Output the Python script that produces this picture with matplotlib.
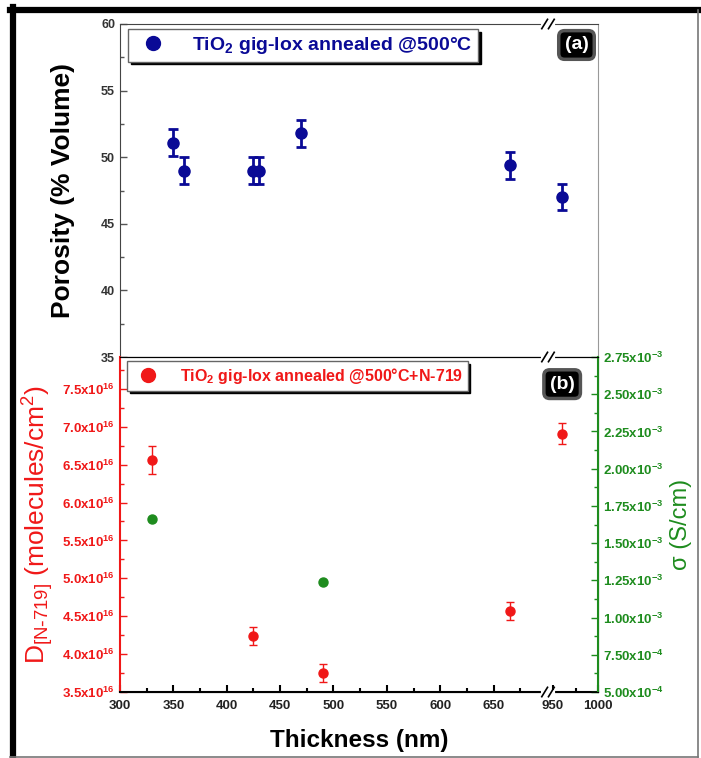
import numpy as np
import matplotlib

matplotlib.use("Agg")
import matplotlib.pyplot as plt
from matplotlib.lines import Line2D
from matplotlib.ticker import FuncFormatter, MultipleLocator, FixedLocator

plt.rcParams["font.family"] = ["Liberation Sans", "DejaVu Sans"]
plt.rcParams["mathtext.default"] = "regular"

# (a) porosity
thick_a = [350, 360, 425, 430, 470, 665, 960]
porosity = [51.1, 49.0, 49.0, 49.0, 51.8, 49.4, 47.0]
porosity_err = [1.0, 1.0, 1.0, 1.0, 1.0, 1.0, 1.0]

# (b) dye loading and conductivity
thick_b = [330, 425, 490, 665, 960]
dye = [6.56e16, 4.24e16, 3.75e16, 4.57e16, 6.91e16]
dye_err = [0.19e16, 0.12e16, 0.115e16, 0.12e16, 0.14e16]
thick_s = [330, 490]
sigma = [1.66e-3, 1.24e-3]

x_major = [300, 350, 400, 450, 500, 550, 600, 650, 950, 1000]
x_minor = [325, 375, 425, 475, 525, 575, 625, 675, 975]

BLUE = "#0a0a96"
RED = "#f01818"
GREEN = "#1e8c1e"
TXT = "#333333"


# broken x axis: 300-700 and 945-1000
def fwd(x):
    x = np.asarray(x, float)
    return np.where(x <= 700, (x - 300) * 1.0675,
                    np.where(x >= 945, 428.5 + (x - 945) * 0.9, 427 + (x - 700) * 1.5 / 245))


def inv(p):
    p = np.asarray(p, float)
    return np.where(p <= 427, 300 + p / 1.0675,
                    np.where(p >= 428.5, 945 + (p - 428.5) / 0.9, 700 + (p - 427) * 245 / 1.5))


fig = plt.figure(figsize=(7.01, 7.58), dpi=100)
L, W = 120 / 701, 478 / 701
axa = fig.add_axes([L, 1 - 357 / 758, W, 333 / 758])
axb = fig.add_axes([L, 1 - 692 / 758, W, 335 / 758])
axs = axb.twinx()

for ax in (axa, axb):
    ax.set_xscale("function", functions=(fwd, inv))
    ax.set_xlim(300, 1000)
    ax.xaxis.set_major_locator(FixedLocator(x_major))
    ax.xaxis.set_minor_locator(FixedLocator(x_minor))

# ---- panel (a)
axa.errorbar(thick_a, porosity, yerr=porosity_err, fmt="o", color=BLUE, ms=8,
             elinewidth=2, capsize=3.5, capthick=2)
axa.set_ylim(35, 60)
axa.yaxis.set_major_locator(MultipleLocator(5))
axa.yaxis.set_minor_locator(MultipleLocator(2.5))
axa.tick_params(axis="y", which="both", direction="in", width=1, colors="#555", labelcolor=TXT,
                labelsize=9)
axa.tick_params(axis="y", which="major", length=5)
axa.tick_params(axis="y", which="minor", length=3)
axa.tick_params(axis="x", which="both", bottom=False, top=False, labelbottom=False)
for lab in axa.get_yticklabels():
    lab.set_fontweight("bold")
for s in axa.spines.values():
    s.set_color("#444")
axa.spines["right"].set_color("#999")
axa.set_ylabel("Porosity (% Volume)", fontsize=19, fontweight="bold")
axa.yaxis.set_label_coords(-0.095, 0.5)

ha = Line2D([], [], marker="o", ls="none", color=BLUE, ms=10)
lga = axa.legend([ha], ["TiO$_2$ gig-lox annealed @500°C"], loc="upper left",
                 bbox_to_anchor=(0.0167, 0.985), borderaxespad=0, fancybox=False,
                 edgecolor="#666", framealpha=1, shadow={"color": "black", "alpha": 1},
                 prop={"size": 14, "weight": "bold"}, labelcolor=BLUE,
                 handletextpad=1.0, borderpad=0.3, handlelength=2.0)
lga.get_frame().set_linewidth(1)
axa.text(0.955, 0.937, "(a)", transform=axa.transAxes, ha="center", va="center",
         color="white", fontsize=14, fontweight="bold",
         bbox=dict(boxstyle="round,pad=0.3", fc="black", ec="#555", lw=2.5))

# ---- panel (b)
axb.errorbar(thick_b, dye, yerr=dye_err, fmt="o", color=RED, ms=6.5,
             elinewidth=1, capsize=3, capthick=1, zorder=3)
axs.plot(thick_s, sigma, "o", color=GREEN, ms=6.5)
axb.set_ylim(3.5e16, 7.92e16)
axb.yaxis.set_major_locator(MultipleLocator(0.5e16))
axb.yaxis.set_minor_locator(MultipleLocator(0.25e16))
axb.yaxis.set_major_formatter(FuncFormatter(lambda v, p: f"{v / 1e16:.1f}x10$^{{16}}$"))
axs.set_ylim(5e-4, 2.75e-3)
axs.yaxis.set_major_locator(MultipleLocator(2.5e-4))
axs.yaxis.set_minor_locator(MultipleLocator(1.25e-4))


def sig_fmt(v, p):
    if v < 9.99e-4:
        return f"{v / 1e-4:.2f}x10$^{{-4}}$"
    return f"{v / 1e-3:.2f}x10$^{{-3}}$"


axs.yaxis.set_major_formatter(FuncFormatter(sig_fmt))

axb.tick_params(axis="x", which="both", direction="in", width=1.5, colors="black", labelsize=9.5,
                top=False, labelcolor="#222")
axb.tick_params(axis="x", which="major", length=5, pad=6)
axb.tick_params(axis="x", which="minor", length=3)
axb.tick_params(axis="y", which="both", direction="in", width=1, colors=RED, labelsize=9.5)
axb.tick_params(axis="y", which="major", length=5)
axb.tick_params(axis="y", which="minor", length=3)
axs.tick_params(axis="y", which="both", direction="in", width=1, colors=GREEN, labelsize=9.5)
axs.tick_params(axis="y", which="major", length=5)
axs.tick_params(axis="y", which="minor", length=3)
for lab in axb.get_xticklabels() + axb.get_yticklabels() + axs.get_yticklabels():
    lab.set_fontweight("bold")

axb.spines["left"].set_color(RED)
axb.spines["left"].set_linewidth(1.5)
axs.spines["right"].set_color(GREEN)
axs.spines["right"].set_linewidth(1.5)
axs.spines["left"].set_visible(False)
axb.spines["bottom"].set_linewidth(1.5)
axb.spines["top"].set_color("#222")

axb.set_xlabel("Thickness (nm)", fontsize=17.5, fontweight="bold", labelpad=12)
axb.set_ylabel(r"D$_{[N\text{-}719]}$ (molecules/cm$^2$)", fontsize=19, color=RED)
axb.yaxis.set_label_coords(-0.134, 0.5)
axs.set_ylabel("σ (S/cm)", fontsize=17, color=GREEN, rotation=90)
axs.yaxis.set_label_coords(1.15, 0.5)

hb = Line2D([], [], marker="o", ls="none", color=RED, ms=10)
lgb = axs.legend([hb], ["TiO$_2$ gig-lox annealed @500°C+N-719"], loc="upper left",
                 bbox_to_anchor=(0.0146, 0.988), borderaxespad=0, fancybox=False,
                 edgecolor="#666", framealpha=1, shadow={"color": "black", "alpha": 1},
                 prop={"size": 11.5, "weight": "bold"}, labelcolor=RED,
                 handletextpad=1.0, borderpad=0.3, handlelength=2.0)
lgb.get_frame().set_linewidth(1)
axs.text(0.925, 0.919, "(b)", transform=axb.transAxes, ha="center", va="center",
         color="white", fontsize=14, fontweight="bold",
         bbox=dict(boxstyle="round,pad=0.3", fc="black", ec="#555", lw=2.5))


# break marks
def brk(ax, y):
    xc, dx, dy = 0.8954, 0.012, 0.028
    ax.plot([xc - 0.011, xc + 0.011], [y, y], color="white", lw=3, transform=ax.transAxes,
            clip_on=False, zorder=10)
    for off in (-0.007, 0.007):
        ax.plot([xc + off - dx / 2, xc + off + dx / 2], [y - dy / 2, y + dy / 2], color="black",
                lw=1.2, transform=ax.transAxes, clip_on=False, zorder=11)


brk(axa, 1)
brk(axs, 1)
brk(axs, 0)

# outer frame
fig.add_artist(Line2D([13 / 701, 13 / 701], [1 - 757 / 758, 1 - 7 / 758], color="black", lw=4.5))
fig.add_artist(Line2D([10 / 701, 698 / 701], [1 - 10 / 758, 1 - 10 / 758], color="black", lw=4.5))
fig.add_artist(Line2D([698 / 701, 698 / 701], [1 - 757 / 758, 1 - 10 / 758], color="#777", lw=1.2))
fig.add_artist(Line2D([10 / 701, 698 / 701], [1 - 756.5 / 758, 1 - 756.5 / 758], color="#777", lw=1.2))

fig.savefig("out.png", dpi=100)
